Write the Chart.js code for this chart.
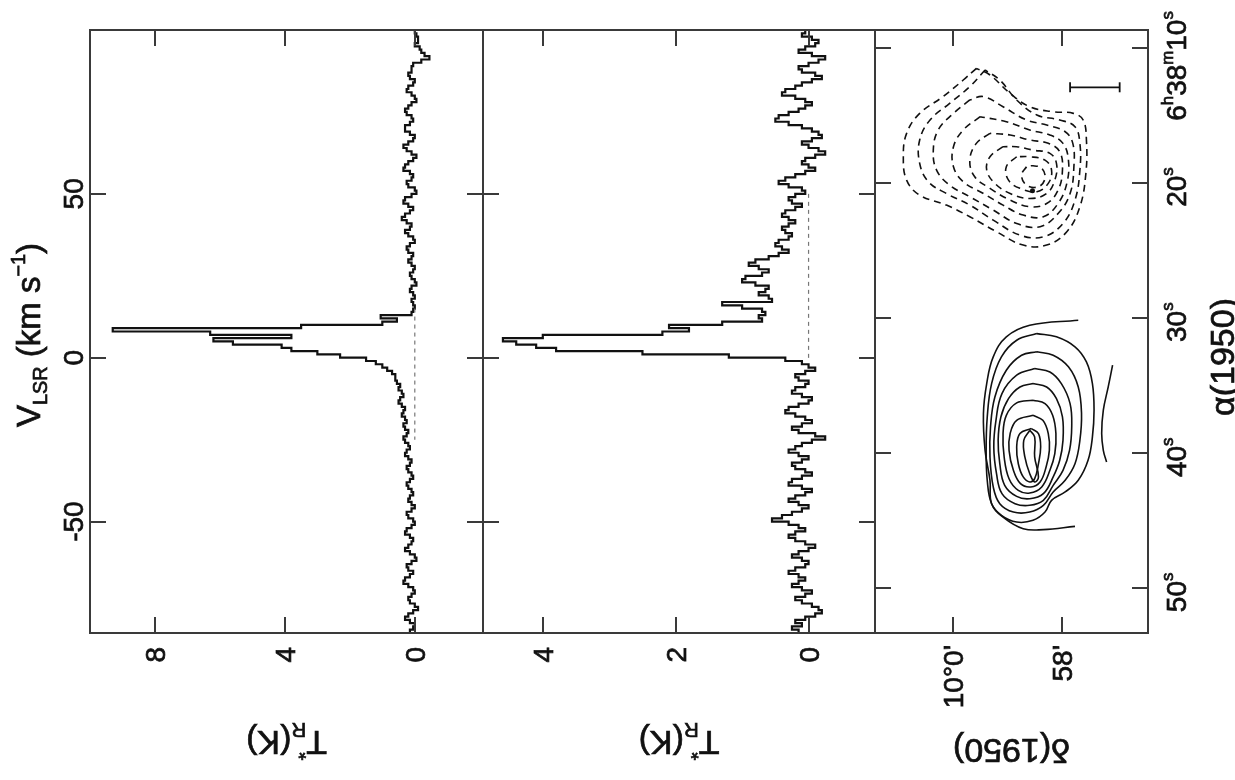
<!DOCTYPE html>
<html>
<head>
<meta charset="utf-8">
<title>CO spectra and map</title>
<script src="https://cdn.jsdelivr.net/npm/chart.js@4.4.1/dist/chart.umd.min.js"></script>
<style>
  html, body { margin: 0; padding: 0; background: #fff; }
  #figure { position: relative; width: 1235px; height: 780px; }
  #figure canvas { position: absolute; left: 0; top: 0; }
</style>
</head>
<body>
<div id="figure">
  <canvas id="spectrumA" width="1235" height="780"></canvas>
  <canvas id="spectrumB" width="1235" height="780"></canvas>
  <canvas id="contourMap" width="1235" height="780"></canvas>
</div>
<script>
// Velocity channels: 1 km/s wide, listed from the top edge down
const VEL_TOP = 100;
const CHANNEL_WIDTH = 1;
const VEL_RANGE = [-84, 100];

// Antenna temperature per channel (K), left spectrum
const tempA = [
  0.0, -0.05, -0.1, -0.1, 0.0, -0.15, -0.2, -0.3, -0.45, -0.2,
  0.05, 0.1, 0.1, 0.2, 0.15, 0.0, 0.05, 0.2, 0.25, 0.1,
  0.0, -0.05, 0.1, 0.2, 0.3, 0.25, 0.1, 0.05, 0.15, 0.3,
  0.3, 0.15, 0.0, 0.05, 0.2, 0.35, 0.25, 0.1, -0.05, 0.05,
  0.2, 0.3, 0.35, 0.15, 0.05, 0.1, 0.25, 0.2, 0.0, -0.05,
  0.1, 0.3, 0.35, 0.2, 0.05, 0.15, 0.3, 0.4, 0.25, 0.1,
  0.15, 0.3, 0.2, 0.05, 0.0, 0.15, 0.25, 0.2, 0.05, 0.1,
  0.2, 0.1, 0.0, 0.05, 0.15, 0.1, 0.0, -0.05, 0.1, 0.15,
  0.05, 0.0, 0.1, 0.05, 0.0, 0.05, 0.1, 1.05, 0.55, 1.0,
  3.5, 9.3, 6.3, 3.8, 6.2, 5.6, 4.1, 3.8, 3.0, 2.3,
  1.5, 1.2, 1.0, 0.85, 0.7, 0.6, 0.6, 0.55, 0.45, 0.5,
  0.4, 0.35, 0.45, 0.5, 0.4, 0.3, 0.35, 0.4, 0.3, 0.25,
  0.35, 0.3, 0.2, 0.25, 0.35, 0.3, 0.2, 0.15, 0.25, 0.3,
  0.2, 0.1, 0.15, 0.25, 0.2, 0.1, 0.05, 0.15, 0.25, 0.2,
  0.1, 0.05, 0.15, 0.2, 0.1, 0.0, 0.1, 0.25, 0.2, 0.05,
  0.0, 0.1, 0.25, 0.3, 0.15, 0.05, 0.1, 0.2, 0.3, 0.15,
  0.0, -0.05, 0.1, 0.25, 0.2, 0.05, 0.15, 0.3, 0.35, 0.2,
  0.05, 0.0, 0.1, 0.2, 0.15, 0.0, -0.1, 0.05, 0.2, 0.3,
  0.15, 0.0, 0.05, 0.15
];

// Antenna temperature per channel (K), middle spectrum
const tempB = [
  0.05, 0.1, -0.05, -0.15, -0.1, 0.05, 0.15, -0.05, -0.25, -0.15,
  0.0, 0.15, 0.1, -0.1, -0.2, -0.05, 0.1, 0.2, 0.35, 0.4,
  0.2, 0.05, -0.05, 0.05, 0.15, 0.3, 0.45, 0.5, 0.3, 0.1,
  -0.05, -0.15, -0.2, -0.05, 0.1, 0.0, -0.15, -0.25, -0.1, 0.05,
  0.1, 0.0, -0.1, 0.05, 0.2, 0.35, 0.45, 0.3, 0.1, 0.05,
  0.2, 0.3, 0.25, 0.1, 0.2, 0.35, 0.4, 0.3, 0.2, 0.3,
  0.4, 0.35, 0.25, 0.3, 0.45, 0.5, 0.4, 0.3, 0.45, 0.6,
  0.8, 0.9, 0.75, 0.6, 0.7, 0.95, 1.0, 0.8, 0.6, 0.65,
  0.75, 0.6, 0.55, 1.3, 1.0, 0.7, 0.65, 0.75, 0.7, 1.3,
  2.1, 1.8, 2.2, 4.0, 4.6, 4.4, 4.1, 3.8, 2.5, 1.2,
  0.35, 0.1, 0.0, -0.1, 0.05, 0.2, 0.15, 0.0, 0.05, 0.2,
  0.25, 0.1, -0.05, 0.0, 0.15, 0.3, 0.35, 0.2, 0.05, -0.05,
  0.1, 0.25, 0.15, -0.1, -0.25, -0.05, 0.1, 0.2, 0.3, 0.15,
  0.0, 0.1, 0.25, 0.2, 0.05, -0.05, 0.1, 0.25, 0.3, 0.1,
  -0.05, 0.05, 0.2, 0.3, 0.15, 0.0, 0.1, 0.25, 0.4, 0.55,
  0.3, 0.15, 0.05, 0.2, 0.3, 0.2, 0.05, -0.1, 0.0, 0.15,
  0.25, 0.1, 0.0, 0.05, 0.2, 0.3, 0.15, 0.05, 0.15, 0.25,
  0.1, -0.05, 0.05, 0.2, 0.1, -0.05, -0.15, -0.2, -0.1, 0.05,
  0.2, 0.1, 0.25, 0.15
];

// Velocity span of the dashed T = 0 baseline in each spectrum
const baselineA = [15, -25];
const baselineB = [50, -1];

// Temperature axis limits (left edge, right edge) and tick values
const tRangeA = [10, -2.1];
const tRangeB = [4.9, -1.0];
const tTicksA = [8, 4, 0];
const tTicksB = [4, 2, 0];
const velTicks = [50, 0, -50];

// Map axes: declination offset from 10°00' (arcmin), RA seconds after 6h38m
const decRange = [1.43, -3.58];
const raRange = [8.67, 53.3];
const decTicks = [0, -2];
const decTickText = ["10°0'", "58'"];
const raTicks = [10, 20, 30, 40, 50];

// Solid contours (integrated emission, low-velocity side)
const solidOuter = [[-2.30, 30.15], [-1.41, 30.52], [-0.98, 31.38], [-0.74, 32.86], [-0.62, 34.84], [-0.56, 37.06], [-0.59, 39.78], [-0.68, 42.00], [-0.71, 43.73], [-0.92, 44.72], [-1.29, 45.58], [-1.66, 45.65], [-2.24, 45.41]];
const solidArc = [[-2.93, 33.48], [-2.85, 35.09], [-2.76, 36.81], [-2.73, 38.54], [-2.76, 39.78], [-2.82, 40.64]];
const solidRings = [
  [[-1.54, 31.14], [-1.90, 31.38], [-2.24, 32.12], [-2.45, 33.24], [-2.56, 34.84], [-2.59, 36.81], [-2.56, 38.79], [-2.48, 40.52], [-2.30, 42.00], [-2.06, 42.86], [-1.81, 43.48], [-1.69, 44.35], [-1.47, 44.96], [-1.17, 45.09], [-0.89, 44.59], [-0.71, 43.73], [-0.63, 42.00], [-0.61, 39.78], [-0.63, 37.31], [-0.71, 34.84], [-0.89, 32.86], [-1.17, 31.63]],
  [[-1.54, 32.49], [-1.84, 32.74], [-2.12, 33.60], [-2.30, 35.09], [-2.36, 37.06], [-2.33, 39.04], [-2.24, 40.77], [-2.06, 42.00], [-1.84, 42.86], [-1.66, 43.85], [-1.41, 44.35], [-1.11, 44.35], [-0.86, 43.73], [-0.74, 42.49], [-0.68, 40.27], [-0.69, 38.05], [-0.77, 35.83], [-0.98, 33.85], [-1.26, 32.74]],
  [[-1.50, 33.73], [-1.78, 33.98], [-1.99, 34.84], [-2.15, 36.32], [-2.18, 38.05], [-2.14, 39.78], [-2.02, 41.26], [-1.84, 42.37], [-1.66, 43.48], [-1.41, 43.85], [-1.14, 43.73], [-0.90, 42.99], [-0.80, 41.51], [-0.75, 39.53], [-0.79, 37.56], [-0.90, 35.58], [-1.17, 34.22]],
  [[-1.47, 34.84], [-1.72, 35.09], [-1.90, 35.95], [-2.01, 37.31], [-2.02, 39.04], [-1.96, 40.52], [-1.84, 41.75], [-1.66, 42.99], [-1.41, 43.36], [-1.17, 43.19], [-0.95, 42.37], [-0.86, 40.77], [-0.83, 39.04], [-0.88, 37.31], [-1.02, 35.95], [-1.23, 35.09]],
  [[-1.47, 36.07], [-1.69, 36.32], [-1.83, 37.19], [-1.89, 38.54], [-1.87, 40.02], [-1.78, 41.26], [-1.63, 42.49], [-1.41, 42.94], [-1.20, 42.74], [-1.03, 41.88], [-0.94, 40.27], [-0.92, 38.54], [-0.98, 37.19], [-1.17, 36.27]],
  [[-1.47, 37.19], [-1.65, 37.56], [-1.75, 38.54], [-1.77, 39.78], [-1.71, 41.01], [-1.60, 42.12], [-1.43, 42.49], [-1.24, 42.25], [-1.11, 41.26], [-1.03, 39.78], [-1.05, 38.54], [-1.17, 37.56]],
  [[-1.44, 38.17], [-1.57, 38.54], [-1.61, 39.53], [-1.57, 40.77], [-1.50, 41.88], [-1.41, 42.12], [-1.29, 41.75], [-1.20, 40.77], [-1.17, 39.53], [-1.23, 38.54]],
  [[-1.41, 38.30], [-1.50, 38.79], [-1.50, 40.27], [-1.57, 41.75], [-1.50, 42.12], [-1.41, 41.51], [-1.32, 40.27], [-1.30, 39.04]]
];

// Dashed contours (high-velocity side)
const dashedRings = [
  [[-0.43, 11.51], [-0.19, 12.37], [0.18, 13.60], [0.61, 14.84], [0.85, 16.32], [0.91, 18.05], [0.85, 19.78], [0.61, 20.89], [0.12, 21.63], [-0.31, 22.49], [-0.80, 23.60], [-1.29, 24.59], [-1.72, 24.59], [-2.09, 23.60], [-2.33, 21.75], [-2.44, 19.28], [-2.45, 16.81], [-2.39, 15.33], [-2.21, 14.84], [-1.84, 14.72], [-1.41, 14.35], [-1.05, 13.36], [-0.68, 12.00]],
  [[-0.59, 11.63], [-0.31, 12.86], [0.06, 14.10], [0.42, 15.33], [0.61, 16.81], [0.61, 18.54], [0.45, 19.90], [0.12, 20.77], [-0.31, 21.63], [-0.74, 22.74], [-1.23, 23.85], [-1.66, 23.98], [-2.02, 22.99], [-2.24, 21.26], [-2.33, 19.04], [-2.33, 17.06], [-2.24, 15.83], [-1.96, 15.33], [-1.54, 14.96], [-1.17, 13.85], [-0.86, 12.37]],
  [[-0.31, 13.85], [-0.01, 14.84], [0.27, 16.07], [0.36, 17.56], [0.30, 19.04], [0.06, 20.15], [-0.31, 21.01], [-0.74, 22.00], [-1.17, 22.99], [-1.60, 23.23], [-1.93, 22.25], [-2.15, 20.77], [-2.22, 18.79], [-2.20, 17.06], [-2.06, 16.20], [-1.72, 15.70], [-1.35, 15.33], [-0.92, 14.35], [-0.56, 13.60]],
  [[-0.50, 15.09], [-0.19, 16.07], [-0.01, 17.31], [-0.01, 18.79], [-0.19, 19.90], [-0.56, 20.77], [-0.92, 21.63], [-1.29, 22.37], [-1.66, 22.49], [-1.93, 21.51], [-2.09, 20.02], [-2.12, 18.30], [-2.02, 17.06], [-1.78, 16.44], [-1.41, 16.07], [-0.98, 15.46]],
  [[-0.68, 16.32], [-0.43, 17.06], [-0.31, 18.30], [-0.40, 19.53], [-0.68, 20.39], [-1.05, 21.26], [-1.41, 21.75], [-1.72, 21.51], [-1.93, 20.52], [-2.01, 19.04], [-1.96, 17.68], [-1.75, 17.06], [-1.41, 16.81], [-1.05, 16.44]],
  [[-0.92, 17.31], [-0.68, 18.05], [-0.62, 19.04], [-0.77, 20.02], [-1.05, 20.77], [-1.41, 21.14], [-1.72, 20.77], [-1.87, 19.78], [-1.90, 18.54], [-1.78, 17.80], [-1.47, 17.56], [-1.17, 17.31]],
  [[-1.17, 18.05], [-0.98, 18.79], [-1.02, 19.78], [-1.23, 20.39], [-1.54, 20.64], [-1.75, 20.02], [-1.81, 19.04], [-1.69, 18.30], [-1.41, 18.05]],
  [[-1.35, 18.79], [-1.26, 19.41], [-1.35, 20.15], [-1.57, 20.27], [-1.69, 19.65], [-1.63, 18.91], [-1.47, 18.72]]
];

const sourceMark = [[-1.46, 20.57]];
const beamBar = [[-2.15, 12.91], [-3.06, 12.91]];

const INK = '#111';
const FRAME = '#3a3a3a';
const FONT = "'Liberation Sans', Arial, sans-serif";
const UP = -Math.PI / 2;
const FLIP = Math.PI;
const TICK_LEN = 16;

/**
 * Draws a run of text pieces (plain, superscript, subscript) rotated about x, y
 */
function drawRich(ctx, pieces, x, y, angle, align, size) {
  ctx.save();
  ctx.translate(x, y);
  ctx.rotate(angle);
  ctx.fillStyle = INK;
  ctx.strokeStyle = INK;
  ctx.lineWidth = 0.7;
  ctx.textAlign = 'left';
  ctx.textBaseline = 'alphabetic';
  const parts = pieces.map(p => (typeof p === 'string' ? { t: p } : Object.assign({}, p)));
  let total = 0;
  parts.forEach(p => {
    p.size = (p.sup || p.sub) ? size * 0.6 : size;
    ctx.font = p.size + 'px ' + FONT;
    p.w = ctx.measureText(p.t).width;
    if (!p.stay) total += p.w;
  });
  let cx = align === 'center' ? -total / 2 : align === 'right' ? -total : 0;
  const base = size * 0.36;
  parts.forEach(p => {
    ctx.font = p.size + 'px ' + FONT;
    const dy = p.sup ? -size * 0.45 : p.sub ? size * 0.22 : 0;
    ctx.fillText(p.t, cx, base + dy);
    ctx.strokeText(p.t, cx, base + dy);
    if (!p.stay) cx += p.w;
  });
  ctx.restore();
}

const T_TITLE = ['T', { t: '*', sup: true, stay: true }, { t: 'R', sub: true }, '(K)'];
const V_TITLE = ['V', { t: 'LSR', sub: true }, ' (km s', { t: '\u22121', sup: true }, ')'];
const RA_TEXT = [
  ['6', { t: 'h', sup: true }, '38', { t: 'm', sup: true }, '10', { t: 's', sup: true }],
  ['20', { t: 's', sup: true }],
  ['30', { t: 's', sup: true }],
  ['40', { t: 's', sup: true }],
  ['50', { t: 's', sup: true }]
];

// Frame, inward ticks and labels for each panel, keyed by canvas id
const panels = {
  spectrumA: {
    xTicks: tTicksA, yTicks: velTicks,
    labels(ctx, a, xs, ys) {
      velTicks.forEach(v => drawRich(ctx, [String(v)], a.left - 17, ys.getPixelForValue(v), UP, 'center', 28));
      tTicksA.forEach(t => drawRich(ctx, [String(t)], xs.getPixelForValue(t), a.bottom + 14, UP, 'right', 28));
      drawRich(ctx, T_TITLE, (a.left + a.right) / 2, a.bottom + 110, FLIP, 'center', 34);
      drawRich(ctx, V_TITLE, a.left - 62, a.top + 305, UP, 'center', 33);
    }
  },
  spectrumB: {
    xTicks: tTicksB, yTicks: velTicks,
    labels(ctx, a, xs) {
      tTicksB.forEach(t => drawRich(ctx, [String(t)], xs.getPixelForValue(t), a.bottom + 14, UP, 'right', 28));
      drawRich(ctx, T_TITLE, (a.left + a.right) / 2, a.bottom + 110, FLIP, 'center', 34);
    }
  },
  contourMap: {
    xTicks: decTicks, yTicks: raTicks,
    labels(ctx, a, xs, ys) {
      decTicks.forEach((d, i) => drawRich(ctx, [decTickText[i]], xs.getPixelForValue(d), a.bottom + 12, UP, 'right', 28));
      raTicks.forEach((r, i) => drawRich(ctx, RA_TEXT[i], a.right + 28, ys.getPixelForValue(r) + (i === 0 ? 18 : 4), UP, 'center', 28));
      drawRich(ctx, ['\u03b1(1950)'], a.right + 74, a.top + 327, UP, 'center', 34);
      drawRich(ctx, ['\u03b4(1950)'], (a.left + a.right) / 2, a.bottom + 118, FLIP, 'center', 34);
    }
  }
};

const panelFrame = {
  id: 'panelFrame',
  afterDraw(chart) {
    const spec = panels[chart.canvas.id];
    if (!spec) return;
    const { ctx, chartArea: a } = chart;
    const xs = chart.scales.x;
    const ys = chart.scales.y;
    ctx.save();
    ctx.strokeStyle = FRAME;
    ctx.lineWidth = 2;
    ctx.strokeRect(a.left, a.top, a.right - a.left, a.bottom - a.top);
    ctx.beginPath();
    spec.xTicks.forEach(v => {
      const px = Math.round(xs.getPixelForValue(v));
      ctx.moveTo(px, a.top);
      ctx.lineTo(px, a.top + TICK_LEN);
      ctx.moveTo(px, a.bottom);
      ctx.lineTo(px, a.bottom - TICK_LEN);
    });
    spec.yTicks.forEach(v => {
      const py = Math.round(ys.getPixelForValue(v));
      ctx.moveTo(a.left, py);
      ctx.lineTo(a.left + TICK_LEN, py);
      ctx.moveTo(a.right, py);
      ctx.lineTo(a.right - TICK_LEN, py);
    });
    ctx.stroke();
    spec.labels(ctx, a, xs, ys);
    ctx.restore();
  }
};

/**
 * Turns a temperature list into stepped points along the velocity axis
 */
function spectrumPoints(temps) {
  const pts = temps.map((t, i) => ({ x: t, y: VEL_TOP - i * CHANNEL_WIDTH }));
  pts.push({ x: temps[temps.length - 1], y: VEL_TOP - temps.length * CHANNEL_WIDTH });
  return pts;
}

function pairsToPoints(pairs, close) {
  const list = close ? pairs.concat([pairs[0]]) : pairs;
  return list.map(([x, y]) => ({ x, y }));
}

function baseOptions(padding, xRange, yRange, yReverse) {
  return {
    responsive: false,
    animation: false,
    events: [],
    layout: { padding },
    plugins: { legend: { display: false }, tooltip: { enabled: false } },
    scales: {
      x: { type: 'linear', display: false, min: Math.min(...xRange), max: Math.max(...xRange), reverse: true },
      y: { type: 'linear', display: false, min: Math.min(...yRange), max: Math.max(...yRange), reverse: yReverse }
    }
  };
}

function createSpectrum(canvasId, temps, baseline, tRange, padding) {
  const ctx = document.getElementById(canvasId).getContext('2d');
  return new Chart(ctx, {
    type: 'scatter',
    data: {
      datasets: [
        {
          data: baseline.map(v => ({ x: 0, y: v })),
          showLine: true, pointRadius: 0,
          borderColor: '#777', borderWidth: 1.2, borderDash: [4, 4]
        },
        {
          data: spectrumPoints(temps),
          showLine: true, stepped: 'after', pointRadius: 0,
          borderColor: INK, borderWidth: 2.2
        }
      ]
    },
    options: baseOptions(padding, tRange, VEL_RANGE, false),
    plugins: [panelFrame]
  });
}

function createContourMap() {
  const ctx = document.getElementById('contourMap').getContext('2d');
  const solidStyle = { showLine: true, pointRadius: 0, borderColor: INK, borderWidth: 1.6, tension: 0.4 };
  const dashedStyle = Object.assign({}, solidStyle, { borderDash: [7, 5] });
  const datasets = [
    Object.assign({ data: pairsToPoints(solidOuter, false) }, solidStyle),
    Object.assign({ data: pairsToPoints(solidArc, false) }, solidStyle)
  ];
  solidRings.forEach(ring => datasets.push(Object.assign({ data: pairsToPoints(ring, true) }, solidStyle)));
  dashedRings.forEach(ring => datasets.push(Object.assign({ data: pairsToPoints(ring, true) }, dashedStyle)));
  datasets.push({
    data: pairsToPoints(sourceMark, false),
    pointRadius: 2.5, pointBackgroundColor: INK, pointBorderWidth: 0
  });
  datasets.push({
    data: pairsToPoints(beamBar, false),
    showLine: true, borderColor: INK, borderWidth: 1.8,
    pointStyle: 'line', rotation: 90, pointRadius: 5, pointBorderColor: INK, pointBorderWidth: 1.8
  });
  return new Chart(ctx, {
    type: 'scatter',
    data: { datasets },
    options: baseOptions({ left: 875, top: 30, right: 87, bottom: 147 }, decRange, raRange, true),
    plugins: [panelFrame]
  });
}

createSpectrum('spectrumA', tempA, baselineA, tRangeA, { left: 90, top: 30, right: 752, bottom: 147 });
createSpectrum('spectrumB', tempB, baselineB, tRangeB, { left: 483, top: 30, right: 360, bottom: 147 });
createContourMap();
</script>
</body>
</html>
